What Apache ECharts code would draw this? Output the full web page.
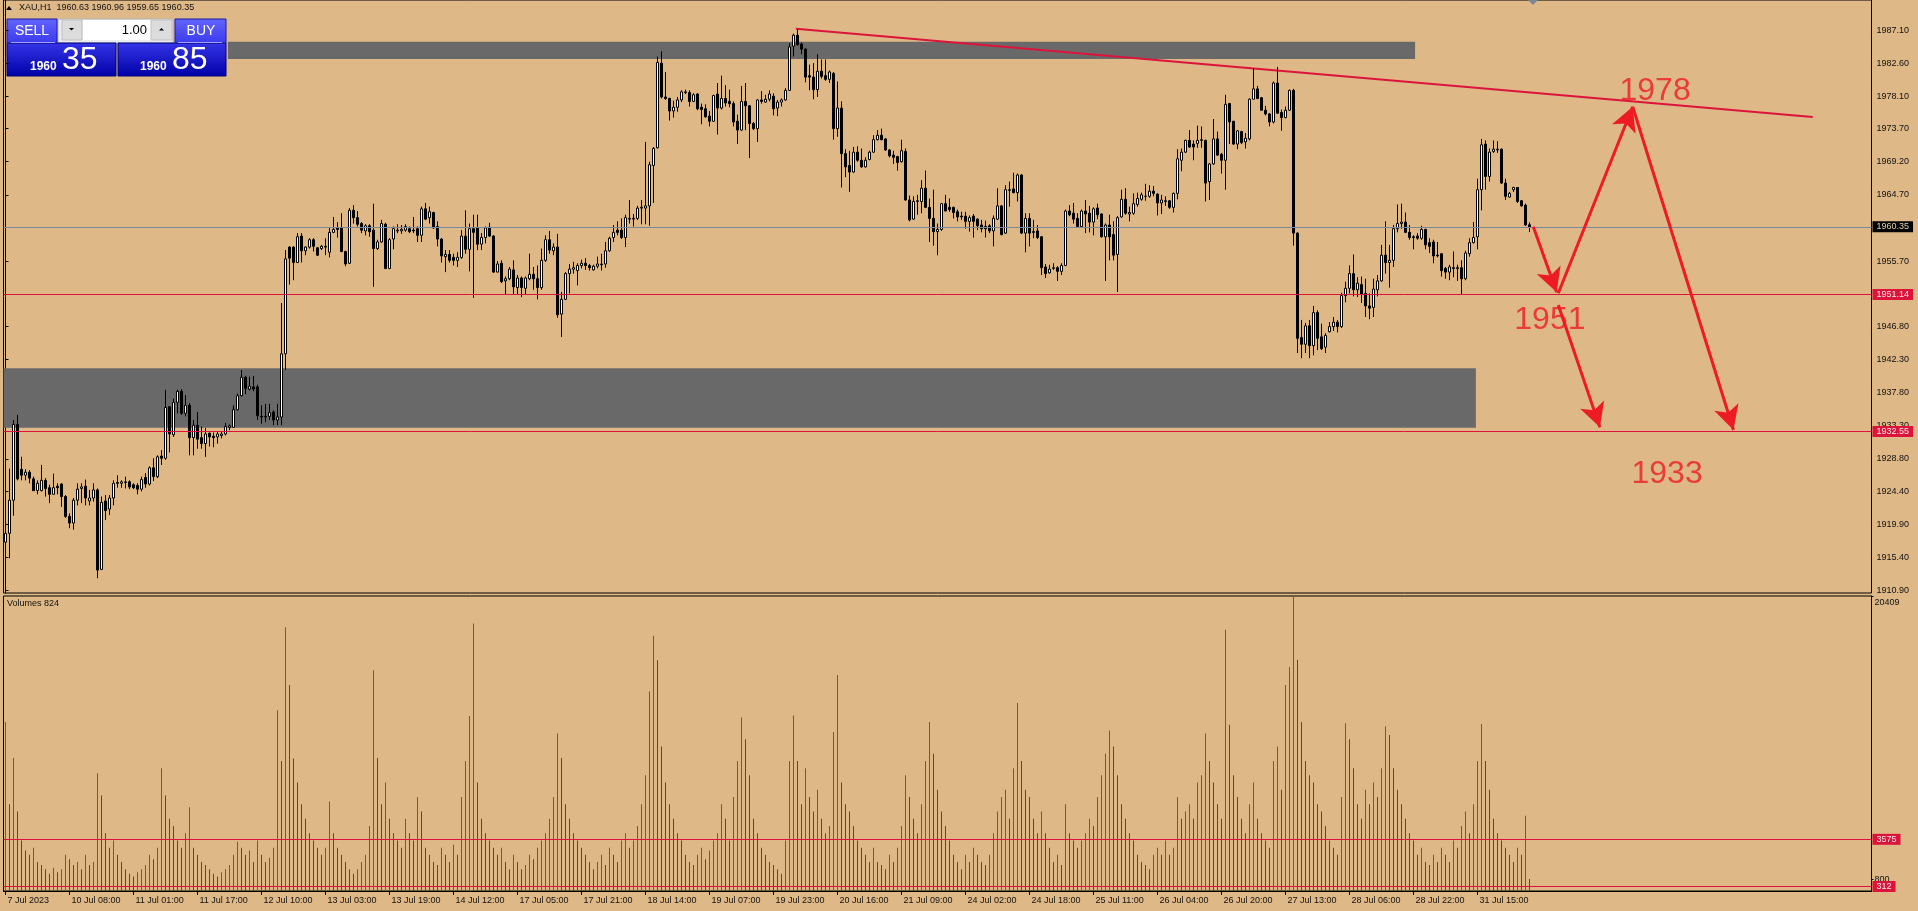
<!DOCTYPE html>
<html><head><meta charset="utf-8">
<script src="https://cdn.jsdelivr.net/npm/echarts@6.0.0/dist/echarts.min.js"></script>
<style>html,body{margin:0;padding:0;background:#DEB887;overflow:hidden}#c{width:1918px;height:911px}</style>
</head><body><div id="c"></div>
<script>
// ---------- time axis (H1 bars, gold session 01:00-23:00) ----------
const sessionDays = [
  ['7 Jul',15,23],['10 Jul',1,23],['11 Jul',1,23],['12 Jul',1,23],['13 Jul',1,23],['14 Jul',1,23],
  ['17 Jul',1,23],['18 Jul',1,23],['19 Jul',1,23],['20 Jul',1,23],['21 Jul',1,23],
  ['24 Jul',1,23],['25 Jul',1,23],['26 Jul',1,23],['27 Jul',1,23],['28 Jul',1,23],
  ['31 Jul',1,23],['1 Aug',1,5]
];
const firstLabel = '7 Jul 2023';
const labelEvery = 16;
const totalSlots = 467;

// ---------- OHLC ----------
const openPx = [
1917.5,1918.7,1923.2,1933.5,1927.4,1926.6,1927.0,1926.1,1924.5,1924.5,1925.9,1924.9,1924.0,1925.1,1925.4,1923.7,1921.0,1920.1,1923.2,1924.8,1925.1,1923.1,1923.5,
1924.6,1913.8,1923.1,1922.0,1923.5,1925.6,1925.5,1925.6,1925.7,1925.3,1925.2,1924.7,1926.3,1925.4,1927.6,1926.4,1929.2,1928.9,1935.9,1932.1,1936.5,1938.0,1935.0,
1936.1,1931.7,1933.4,1931.7,1930.9,1932.3,1931.9,1931.8,1932.0,1932.2,1933.1,1933.1,1935.5,1937.4,1939.9,1938.3,1938.6,1938.6,1934.6,1934.5,1934.6,1935.2,1934.1,
1934.5,1943.1,1957.6,1957.6,1955.5,1959.1,1957.1,1957.6,1958.6,1957.5,1957.4,1957.7,1956.9,1959.6,1960.2,1960.2,1957.0,1955.4,1962.6,1961.6,1960.8,1959.8,1960.5,
1959.9,1957.4,1958.3,1960.7,1954.7,1958.7,1959.8,1959.8,1959.9,1960.1,1959.9,1960.1,1959.2,1962.8,1961.6,1962.3,1960.4,1958.7,1956.3,1956.6,1956.2,1955.8,1956.2,
1959.1,1957.3,1960.1,1960.2,1958.0,1958.9,1960.3,1959.1,1954.2,1955.4,1953.0,1953.3,1954.5,1952.1,1953.4,1952.0,1953.3,1953.9,1953.3,1952.1,1955.8,1958.6,1957.1,
1957.6,1948.5,1950.5,1954.0,1954.6,1954.4,1955.1,1955.4,1955.1,1954.5,1955.0,1955.2,1955.3,1957.1,1958.9,1959.9,1959.9,1958.9,1961.4,1961.4,1961.5,1962.9,1962.9,
1963.2,1968.7,1971.1,1982.6,1978.0,1977.8,1976.1,1976.6,1977.6,1978.6,1978.6,1977.4,1978.4,1976.6,1976.4,1975.4,1974.7,1978.4,1976.5,1977.8,1977.4,1977.1,1974.7,
1973.5,1977.4,1976.8,1974.4,1973.7,1977.6,1977.3,1977.7,1978.1,1976.5,1977.3,1977.6,1978.9,1984.9,1986.4,1985.2,1984.5,1980.9,1980.7,1979.0,1981.5,1980.9,1980.4,
1981.2,1973.7,1976.5,1970.3,1968.7,1967.8,1970.5,1969.4,1968.5,1969.5,1970.5,1972.2,1972.8,1972.3,1970.8,1970.1,1969.9,1969.2,1970.6,1964.0,1961.4,1963.8,1963.8,
1965.6,1963.0,1961.5,1959.7,1960.0,1963.5,1963.0,1963.0,1962.4,1961.8,1961.8,1961.1,1961.8,1961.4,1960.6,1960.4,1960.5,1959.8,1961.4,1963.2,1959.5,1965.3,1965.5,
1965.0,1967.4,1959.5,1961.5,1959.7,1959.8,1959.0,1954.9,1954.1,1954.7,1954.8,1954.3,1955.1,1962.5,1962.2,1961.5,1960.4,1962.5,1962.2,1961.0,1962.9,1962.1,1959.0,
1960.6,1959.3,1956.6,1961.7,1964.1,1962.1,1962.2,1963.4,1964.1,1964.5,1964.5,1965.2,1964.8,1963.6,1963.8,1963.9,1963.0,1964.9,1969.4,1970.5,1972.1,1971.6,1971.7,
1972.1,1972.1,1966.5,1968.9,1972.3,1970.2,1969.4,1977.1,1974.7,1971.6,1973.3,1971.9,1972.3,1977.7,1979.1,1977.9,1976.2,1975.7,1974.6,1979.9,1975.9,1975.2,1976.2,
1978.9,1959.5,1945.3,1944.4,1946.9,1944.2,1948.7,1945.4,1944.0,1946.1,1946.8,1947.4,1946.8,1951.0,1952.0,1954.0,1951.8,1952.5,1951.3,1949.6,1949.4,1951.8,1953.0,
1956.5,1955.5,1955.8,1960.1,1960.8,1961.0,1959.6,1959.0,1959.1,1958.8,1960.0,1958.2,1958.3,1956.5,1956.7,1954.7,1954.2,1954.8,1954.8,1954.8,1953.3,1956.7,1958.2,
1959.0,1965.4,1971.6,1967.2,1970.6,1970.8,1970.9,1966.3,1964.4,1965.4,1965.7,1963.9,1963.3,1960.63
];
const highPx = [
1928.0,1927.5,1934.1,1934.8,1929.1,1927.4,1927.3,1926.4,1925.9,1928.0,1926.2,1925.3,1926.8,1925.5,1925.5,1923.9,1921.4,1923.5,1925.5,1925.5,1926.0,1924.6,1925.5,
1924.8,1923.7,1923.9,1923.9,1925.9,1926.6,1925.9,1926.4,1925.9,1925.5,1925.5,1926.4,1926.9,1927.8,1928.9,1929.3,1930.0,1938.2,1936.0,1937.0,1938.2,1938.3,1937.5,
1936.4,1934.1,1935.2,1933.2,1933.0,1932.4,1932.4,1932.5,1932.5,1933.7,1933.5,1936.1,1937.7,1940.9,1940.1,1940.0,1940.1,1938.9,1936.1,1936.3,1936.3,1935.4,1936.3,
1950.0,1957.2,1957.7,1957.7,1959.5,1959.5,1957.7,1958.8,1958.8,1957.6,1957.9,1958.8,1960.2,1961.7,1961.0,1962.2,1957.1,1962.9,1963.3,1962.5,1961.0,1960.7,1960.7,
1963.5,1958.6,1961.3,1960.9,1958.8,1960.4,1960.7,1960.6,1960.7,1960.4,1961.7,1960.4,1963.1,1963.6,1963.1,1962.4,1961.1,1958.8,1957.2,1957.2,1956.7,1956.9,1959.9,
1962.6,1960.8,1962.0,1962.0,1959.5,1960.4,1960.9,1959.2,1955.7,1955.8,1953.6,1954.9,1955.8,1953.8,1953.6,1953.6,1956.7,1954.9,1955.1,1957.4,1959.2,1959.8,1958.1,
1959.4,1951.5,1954.2,1955.3,1955.6,1955.4,1955.9,1956.1,1955.3,1955.2,1956.3,1956.7,1958.3,1959.0,1960.6,1961.1,1961.5,1962.0,1964.0,1962.1,1963.2,1964.0,1971.9,
1969.2,1971.2,1983.5,1984.2,1981.4,1977.9,1977.5,1978.0,1978.9,1979.0,1978.9,1978.5,1978.5,1977.1,1977.0,1976.1,1978.3,1979.9,1980.9,1979.6,1979.0,1977.4,1975.6,
1979.5,1979.9,1976.9,1974.6,1977.7,1978.8,1978.3,1978.9,1978.5,1977.6,1977.8,1979.2,1985.3,1986.6,1987.2,1985.4,1984.6,1982.4,1982.6,1983.8,1983.1,1983.1,1981.6,
1981.4,1980.1,1977.4,1970.9,1970.7,1971.2,1971.3,1971.0,1969.8,1970.7,1972.8,1973.5,1973.7,1972.4,1970.9,1970.7,1970.0,1972.2,1971.0,1964.6,1964.5,1964.7,1966.7,
1968.0,1964.2,1965.4,1960.8,1963.6,1964.7,1964.2,1963.1,1962.7,1962.4,1962.4,1961.9,1962.1,1961.5,1961.3,1961.2,1960.7,1961.9,1965.6,1963.3,1966.0,1966.5,1967.7,
1967.6,1967.5,1962.2,1962.2,1961.3,1960.6,1959.1,1955.3,1955.2,1955.4,1955.0,1955.4,1962.7,1963.3,1963.6,1962.2,1962.7,1964.0,1963.2,1963.0,1963.5,1962.2,1960.8,
1962.0,1961.1,1961.8,1965.4,1965.6,1963.1,1964.9,1965.0,1965.0,1966.2,1966.0,1965.9,1964.9,1964.7,1964.5,1964.0,1965.0,1970.9,1971.0,1972.2,1973.5,1972.1,1974.1,
1974.0,1972.2,1969.0,1975.0,1973.3,1970.4,1978.3,1977.2,1974.7,1973.5,1973.4,1973.1,1977.8,1981.9,1979.5,1978.0,1976.8,1975.8,1980.1,1982.1,1976.3,1976.7,1979.0,
1979.1,1959.6,1947.7,1947.3,1947.7,1949.6,1949.0,1947.2,1945.9,1947.4,1948.1,1947.7,1951.4,1952.9,1955.1,1956.6,1953.5,1953.6,1953.3,1951.3,1953.3,1953.8,1957.9,
1961.1,1957.9,1960.6,1963.4,1963.5,1962.3,1960.6,1959.2,1959.5,1960.5,1960.1,1958.8,1958.6,1958.3,1956.7,1954.9,1955.2,1957.0,1955.2,1955.8,1957.1,1958.8,1961.0,
1966.9,1972.3,1972.1,1971.0,1972.1,1972.0,1971.0,1966.9,1965.1,1965.8,1965.7,1964.0,1963.5,1960.96
];
const lowPx = [
1914.0,1915.3,1921.1,1925.9,1925.9,1925.9,1925.5,1924.5,1924.0,1924.4,1923.7,1922.8,1924.0,1924.0,1922.3,1920.8,1919.4,1919.2,1922.5,1922.8,1922.5,1922.5,1923.0,
1912.6,1913.7,1920.5,1921.2,1922.5,1924.9,1924.9,1924.8,1924.7,1924.7,1924.0,1924.4,1924.9,1925.2,1925.8,1926.2,1928.0,1928.7,1929.7,1931.8,1935.0,1934.8,1934.6,
1929.3,1929.3,1930.2,1930.2,1929.1,1930.5,1930.4,1930.9,1931.6,1932.0,1932.7,1933.1,1935.4,1937.3,1937.6,1938.1,1938.0,1934.1,1933.6,1933.8,1934.1,1933.4,1933.4,
1933.4,1940.9,1952.5,1953.1,1955.5,1955.5,1956.5,1957.4,1957.0,1956.4,1957.2,1956.5,1956.2,1959.5,1958.9,1956.9,1955.0,1955.3,1960.8,1960.4,1959.5,1959.2,1959.0,
1952.2,1957.2,1958.2,1954.6,1954.6,1957.3,1959.5,1959.4,1959.7,1959.5,1959.5,1958.3,1958.3,1961.3,1960.8,1960.1,1957.7,1955.5,1954.2,1955.5,1955.1,1954.9,1956.0,
1956.7,1954.3,1950.7,1957.2,1957.2,1958.1,1959.0,1954.1,1954.2,1952.7,1951.2,1953.1,1951.2,1951.1,1950.8,1951.1,1953.1,1951.8,1950.5,1951.8,1955.6,1956.7,1956.5,
1948.0,1945.4,1950.4,1951.3,1954.0,1952.4,1954.7,1954.5,1954.4,1954.4,1954.7,1954.4,1954.8,1957.0,1958.3,1959.2,1958.7,1957.6,1960.8,1960.4,1961.3,1960.7,1960.7,
1960.5,1963.6,1971.0,1977.8,1977.6,1974.8,1975.2,1976.0,1977.3,1978.4,1976.7,1977.3,1976.2,1974.3,1975.2,1974.0,1974.6,1972.9,1976.3,1976.7,1976.6,1974.0,1971.6,
1973.4,1973.5,1969.7,1973.5,1971.9,1977.1,1977.2,1977.4,1975.5,1975.4,1976.7,1977.5,1978.9,1983.5,1985.0,1983.8,1980.0,1978.9,1977.7,1978.0,1980.5,1980.2,1979.9,
1972.2,1972.6,1965.7,1967.1,1965.1,1967.7,1969.2,1968.4,1968.4,1969.4,1970.4,1972.1,1972.1,1970.7,1969.8,1968.9,1968.0,1969.1,1963.9,1961.1,1961.3,1962.0,1962.2,
1962.9,1958.3,1957.8,1956.5,1959.8,1962.5,1962.4,1961.5,1961.1,1961.3,1960.1,1959.7,1958.9,1959.9,1959.6,1958.9,1959.5,1957.7,1961.3,1959.2,1959.4,1963.1,1964.9,
1963.8,1959.4,1956.9,1957.7,1958.8,1958.7,1953.8,1953.4,1954.0,1954.5,1953.0,1953.8,1955.0,1961.8,1960.8,1960.3,1960.2,1959.5,1959.6,1959.2,1961.4,1958.9,1953.0,
1955.8,1955.8,1951.5,1961.6,1962.0,1961.1,1962.0,1963.1,1963.9,1963.9,1964.3,1964.5,1961.9,1962.1,1963.2,1962.8,1962.3,1964.1,1967.9,1970.4,1971.1,1969.4,1971.1,
1971.1,1963.8,1964.0,1968.8,1970.0,1967.6,1965.4,1971.6,1971.5,1970.9,1971.6,1971.0,1972.1,1977.7,1977.7,1976.2,1975.5,1974.0,1974.4,1975.7,1973.4,1975.1,1976.1,
1957.8,1943.2,1942.5,1943.2,1942.5,1942.9,1943.6,1943.6,1943.2,1946.0,1946.2,1946.0,1946.6,1950.1,1951.3,1950.9,1950.8,1950.0,1948.1,1947.8,1948.1,1950.9,1952.9,
1954.0,1952.1,1954.9,1959.6,1960.1,1959.5,1958.6,1957.3,1958.6,1958.6,1957.3,1956.8,1955.4,1956.2,1953.6,1953.3,1953.1,1953.5,1953.0,1951.2,1953.1,1956.3,1958.1,
1957.3,1962.6,1965.4,1966.5,1970.4,1970.4,1966.2,1964.0,1964.3,1965.1,1963.6,1963.1,1960.5,1959.65
];
const closePx = [
1918.7,1923.2,1933.5,1926.1,1926.6,1927.0,1926.2,1924.5,1925.5,1925.9,1924.8,1924.0,1924.9,1924.9,1923.7,1921.0,1920.1,1923.2,1924.7,1925.0,1923.5,1923.5,1924.6,
1913.7,1922.9,1921.8,1923.5,1925.5,1925.5,1925.7,1925.7,1925.0,1924.9,1924.7,1926.0,1925.4,1927.6,1926.4,1929.1,1928.9,1935.8,1932.2,1936.5,1938.0,1935.0,1936.1,
1931.7,1933.4,1931.5,1930.9,1932.2,1931.8,1931.7,1932.2,1932.2,1933.2,1933.3,1935.5,1937.4,1939.9,1938.4,1938.7,1938.3,1934.7,1934.5,1934.6,1935.1,1934.1,1934.5,
1943.1,1956.0,1956.1,1955.5,1959.0,1957.1,1957.6,1958.6,1957.7,1956.5,1957.7,1957.6,1959.6,1960.0,1960.0,1957.0,1955.3,1962.6,1961.6,1960.7,1959.9,1960.5,1959.7,
1957.4,1958.3,1960.8,1954.7,1958.6,1960.1,1959.9,1960.0,1960.4,1959.7,1959.8,1959.2,1962.8,1961.4,1962.4,1960.2,1958.7,1956.4,1956.6,1955.8,1955.8,1956.2,1959.1,
1957.3,1960.1,1959.6,1958.0,1958.9,1960.2,1959.1,1954.2,1955.3,1952.9,1953.3,1954.6,1952.2,1953.4,1952.1,1953.4,1953.9,1953.3,1952.1,1955.8,1958.6,1957.2,1957.6,
1948.4,1950.5,1954.0,1954.6,1954.8,1955.1,1955.4,1955.1,1954.8,1955.0,1955.3,1955.3,1957.1,1958.8,1959.6,1959.6,1958.9,1961.6,1961.5,1961.5,1962.9,1963.0,1963.2,
1968.8,1971.0,1982.7,1978.0,1977.8,1976.1,1976.6,1977.6,1978.7,1978.7,1977.4,1978.3,1976.4,1976.3,1975.3,1974.7,1978.2,1976.5,1977.8,1977.2,1977.1,1974.6,1973.5,
1977.4,1976.8,1974.4,1973.7,1977.6,1977.4,1977.7,1978.4,1976.4,1977.3,1977.6,1978.9,1984.8,1986.4,1985.1,1984.5,1980.7,1980.7,1979.0,1981.5,1980.8,1980.4,1981.4,
1973.7,1976.5,1970.3,1968.5,1967.8,1970.5,1969.4,1968.5,1969.4,1970.5,1972.2,1972.8,1972.2,1970.8,1970.0,1969.8,1969.1,1970.7,1964.0,1961.3,1963.8,1963.9,1965.6,
1963.0,1961.5,1959.7,1960.0,1963.5,1962.5,1962.7,1962.3,1961.7,1961.7,1961.1,1961.6,1961.1,1960.5,1960.1,1960.1,1959.8,1961.5,1963.2,1959.3,1965.4,1965.4,1965.0,
1967.4,1959.5,1961.5,1959.5,1959.6,1958.9,1954.8,1954.0,1954.6,1954.8,1954.3,1955.1,1962.5,1962.0,1961.4,1960.4,1962.5,1962.1,1961.0,1962.8,1962.0,1959.0,1960.6,
1959.0,1956.5,1961.6,1964.1,1962.2,1962.3,1963.5,1964.2,1964.7,1964.5,1965.2,1964.9,1963.6,1964.0,1963.9,1963.0,1964.9,1969.6,1970.5,1972.1,1971.2,1971.2,1972.1,
1972.2,1966.3,1968.9,1972.3,1970.1,1969.4,1977.0,1974.6,1971.6,1973.4,1971.8,1972.4,1977.7,1979.1,1977.8,1976.2,1975.7,1974.6,1979.9,1975.8,1975.2,1976.2,1978.9,
1959.5,1945.2,1944.4,1946.9,1944.2,1948.7,1945.2,1943.8,1945.6,1946.8,1947.4,1946.8,1951.0,1952.0,1954.0,1951.8,1952.7,1951.2,1949.6,1949.3,1951.9,1953.0,1956.5,
1955.5,1955.8,1960.1,1960.8,1961.0,1959.6,1958.9,1958.9,1958.8,1960.0,1957.9,1957.7,1956.4,1956.4,1954.4,1954.2,1954.9,1954.7,1954.7,1953.3,1956.8,1958.2,1958.9,
1965.4,1971.5,1967.2,1970.5,1970.9,1970.9,1966.3,1964.5,1964.9,1965.7,1963.8,1963.2,1960.6,1960.35
];
// ---------- tick volumes ----------
const volumes = [
11700,6000,9200,5500,3500,2800,2500,3000,2000,1800,1500,1200,1600,1300,1500,2500,2200,1800,2000,1500,2500,1800,2000,
8150,6600,4000,3000,3500,2500,2000,1500,1200,1000,1300,1500,1800,2500,2200,3000,8500,6600,5000,4500,3500,3000,4000,
5800,3000,2500,2000,1800,1500,1200,1000,1300,1500,1800,2500,3400,3000,2500,2800,2000,3500,2500,2000,2300,3000,12500,
9000,18250,14260,9170,7500,6000,5000,4000,3500,3000,2500,3000,6200,4000,3000,2500,2000,1500,1200,1500,2000,2500,4500,
15280,9200,6000,7500,5000,4000,3500,3000,5000,4000,3500,6500,5500,3000,2500,2000,1800,3000,2500,2000,3200,2500,6500,
9000,12100,18500,7500,5000,4000,3500,3000,2500,3000,2000,1500,2500,2000,1500,1800,2500,2200,3000,3500,4000,5000,6500,
10900,9200,6000,5000,4000,3500,3000,2500,2000,1500,2000,2500,1800,3000,2500,2000,3500,4000,3000,3500,4500,6000,8000,
13800,17660,15960,10000,7500,6000,5000,4000,3500,2500,2000,1800,2500,3000,2200,2800,3500,4000,6000,5000,3500,6500,9000,
12000,10500,8000,5000,4000,3000,2500,2000,1800,1500,1200,3500,9000,12140,9000,6000,8500,6500,5500,7000,5000,4000,4500,
11000,14940,7500,6000,5500,4500,3500,3000,2500,2000,3000,2000,1800,1500,2500,2000,3000,4500,8000,6500,5000,4000,6000,
9000,11700,9500,7000,5500,4500,3500,2500,2000,1500,2500,2000,3000,2500,2000,1800,2500,4000,5500,6500,7000,5000,8500,
13000,9000,7000,6500,5000,4000,5500,4000,3000,2000,2500,1800,6000,4000,3500,3000,3500,4000,5000,4500,6500,8000,9500,
11100,10000,8000,6000,5000,4000,3500,2500,2000,1800,1500,2500,3000,2500,3500,2500,3000,6500,5000,5500,6000,5000,7500,
8000,10900,9000,7500,6000,5000,18080,11500,8000,6500,5000,4000,6000,7500,5000,4000,3500,3000,9000,10000,7000,14260,15500,
20409,16000,11700,9000,8000,7500,6000,5500,4500,3500,3000,2500,6500,11600,10500,8500,6000,5000,7000,6000,7500,6500,8500,
11400,10800,8500,7000,6000,5000,4000,3500,2500,3000,2000,1800,2500,2000,3000,2500,2000,3500,3000,4500,5500,4000,6000,
9000,11550,9000,7000,5000,4000,3500,3000,2500,2000,3000,2500,5200,824
];

// ---------- axis ticks / levels ----------
const priceTicks = [1910.90,1915.40,1919.90,1924.40,1928.80,1933.30,1937.80,1942.30,1946.80,1955.70,1964.70,1969.20,1973.70,1978.10,1982.60,1987.10];
const priceMin = 1910.59, priceMax = 1991.18;
const volumeTicks = [800, 20409];
const volumeMax = 20409;
const bidPrice = 1960.35, askPrice = 1960.85;
const priceLevels = [1951.14, 1932.55];
const volumeLevels = [3575, 312];
const lotSize = '1.00';

// ---------- drawn objects (bar index, price) ----------
const zones = [[55.6, 1985.51, 352.4, 1983.16], [-0.5, 1941.12, 367.6, 1933.05]];
const trendLine = [[197.6, 1987.28], [451.8, 1975.28]];
const arrowPaths = [
  [[381.95, 1960.37], [387.8, 1951.45]],
  [[388.2, 1951.32], [406.8, 1976.68]],
  [[406.8, 1976.68], [432.0, 1932.74]],
  [[388.2, 1949.73], [398.6, 1933.10]]
];
const noteTexts = [['1978', 412.4, 1978.81], ['1951', 386.1, 1947.69], ['1933', 415.4, 1926.76]];

// ---------- build ----------
const barTimes = [];
sessionDays.forEach(([d, h0, h1]) => { for (let h = h0; h <= h1; h++) barTimes.push(d + ' ' + String(h).padStart(2, '0') + ':00'); });
[openPx, highPx, lowPx, closePx, volumes].forEach((a, k) => {
  if (a.length !== barTimes.length) throw new Error('length mismatch ' + k + ': ' + a.length + ' vs ' + barTimes.length);
});
const nBars = barTimes.length;
const cats = barTimes.slice();
for (let i = nBars; i < totalSlots; i++) cats.push('_' + i);

const ohlc = openPx.map((o, i) => [o, closePx[i], lowPx[i], highPx[i]]);
const volData = volumes.map((v, i) => ({ value: v, itemStyle: { color: (i === 0 || v > volumes[i - 1]) ? '#00a000' : '#ff0000' } }));

const FONT = 'Liberation Sans';
const showIdx = (i) => i % labelEvery === 0 && i < nBars;
const tag = (bg, fg, txt) => ({
  show: true, position: 'end', distance: 1, formatter: txt, backgroundColor: bg, color: fg,
  fontFamily: FONT, fontSize: 9, padding: [1, 4, 1, 4], lineHeight: 9
});

const chart = echarts.init(document.getElementById('c'), null, { renderer: 'canvas', width: 1918, height: 911 });

const blueTop = new echarts.graphic.LinearGradient(0, 0, 0, 1, [{ offset: 0, color: '#6464ff' }, { offset: 1, color: '#3a3aee' }]);
const blueBox = () => new echarts.graphic.LinearGradient(0, 0, 0, 1, [{ offset: 0, color: '#3535e8' }, { offset: 1, color: '#0000a6' }]);
const bidStr = bidPrice.toFixed(2).split('.'), askStr = askPrice.toFixed(2).split('.');
const last = nBars - 1;
const headerText = 'XAU,H1  ' + [openPx[last], highPx[last], lowPx[last], closePx[last]].map(v => v.toFixed(2)).join(' ');

const option = {
  animation: false,
  backgroundColor: '#DEB887',
  grid: [
    { left: 3.5, right: 46.5, top: 0, height: 593, show: true, borderColor: '#000', borderWidth: 1, backgroundColor: 'transparent' },
    { left: 3.5, right: 46.5, top: 596, height: 295, show: true, borderColor: '#000', borderWidth: 1, backgroundColor: 'transparent' }
  ],
  xAxis: [
    { type: 'category', gridIndex: 0, data: cats, boundaryGap: true, show: false },
    { type: 'category', gridIndex: 1, data: cats, boundaryGap: true,
      axisLine: { show: true, lineStyle: { color: '#000', width: 1 } },
      axisTick: { show: true, alignWithLabel: true, interval: showIdx, length: 4, lineStyle: { color: '#000' } },
      axisLabel: { show: true, interval: showIdx, align: 'left', margin: 5, padding: [0, 0, 0, 2], color: '#111', fontFamily: FONT, fontSize: 9,
        formatter: (v, i) => i === 0 ? firstLabel : v },
      splitLine: { show: false } },
    { type: 'value', gridIndex: 0, min: -0.5, max: totalSlots - 0.5, show: false }
  ],
  yAxis: [
    { type: 'value', gridIndex: 0, position: 'right', min: priceMin, max: priceMax, scale: true,
      axisLine: { show: true, lineStyle: { color: '#000' } },
      axisTick: { show: true, customValues: priceTicks, length: 3, lineStyle: { color: '#000' } },
      axisLabel: { show: true, customValues: priceTicks, margin: 5, color: '#111', fontFamily: FONT, fontSize: 9, formatter: v => v.toFixed(2) },
      splitLine: { show: false } },
    { type: 'value', gridIndex: 1, position: 'right', min: 0, max: volumeMax,
      axisLine: { show: true, lineStyle: { color: '#000' } },
      axisTick: { show: true, customValues: volumeTicks, length: 2, lineStyle: { color: '#000' } },
      axisLabel: { show: true, customValues: volumeTicks, margin: 3, color: '#111', fontFamily: FONT, fontSize: 9,
        formatter: v => v === volumeMax ? '{t|' + v + '}' : String(v),
        rich: { t: { padding: [14, 0, 0, 0], color: '#111', fontFamily: FONT, fontSize: 9 } } },
      splitLine: { show: false } }
  ],
  series: [
    { type: 'line', name: 'objects', xAxisIndex: 2, yAxisIndex: 0, data: trendLine, symbol: 'none', silent: true,
      lineStyle: { color: '#dc143c', width: 2 }, z: 3,
      markArea: { silent: true, itemStyle: { color: '#696969', opacity: 1 },
        data: zones.map(z => [{ coord: [z[0], z[1]] }, { coord: [z[2], z[3]] }]) } },
    { type: 'candlestick', name: 'XAU', xAxisIndex: 0, yAxisIndex: 0, data: ohlc, barWidth: 2, silent: true, z: 4,
      itemStyle: { color: '#ffffff', color0: '#000000', borderColor: '#000000', borderColor0: '#000000', borderWidth: 1 },
      markLine: { silent: true, symbol: ['none', 'none'], z: 6,
        data: [
          { yAxis: bidPrice, lineStyle: { color: '#778899', width: 1, type: 'solid' }, label: tag('#000000', '#e2cfa6', bidPrice.toFixed(2)) },
          ...priceLevels.map(p => ({ yAxis: p, lineStyle: { color: '#dc143c', width: 1, type: 'solid' }, label: tag('#dc143c', '#ffe6e6', p.toFixed(2)) }))
        ] } },
    { type: 'line', name: 'arrows', xAxisIndex: 2, yAxisIndex: 0, data: [], silent: true, z: 7,
      markLine: { silent: true, symbol: ['none', 'arrow'], symbolSize: [19, 24], z: 7,
        lineStyle: { color: '#ed1c24', width: 3, type: 'solid' }, label: { show: false },
        data: arrowPaths.map(a => [{ coord: a[0] }, { coord: a[1] }]) } },
    { type: 'scatter', name: 'notes', xAxisIndex: 2, yAxisIndex: 0, silent: true, z: 8,
      data: noteTexts.map(t => [t[1], t[2], t[0]]), symbolSize: 1, itemStyle: { color: 'rgba(0,0,0,0)' },
      label: { show: true, position: 'inside', formatter: p => p.value[2], color: '#ed1c24', fontFamily: FONT, fontSize: 32 } },
    { type: 'bar', name: 'Volumes', xAxisIndex: 1, yAxisIndex: 1, data: volData, barWidth: 1, silent: true,
      markLine: { silent: true, symbol: ['none', 'none'],
        data: volumeLevels.map(v => ({ yAxis: v, lineStyle: { color: '#dc143c', width: 1, type: 'solid' }, label: tag('#dc143c', '#ffe6e6', String(v)) })) } }
  ],
  graphic: [
    { type: 'polygon', shape: { points: [[6, 10], [12, 10], [9, 6]] }, style: { fill: '#000' } },
    { type: 'text', x: 19, y: 8, style: { text: headerText, font: '9px ' + FONT, fill: '#111', verticalAlign: 'middle' } },
    { type: 'polygon', shape: { points: [[1528, 0], [1538, 0], [1533, 5]] }, style: { fill: '#7b8794' } },
    { type: 'text', x: 7, y: 604, style: { text: 'Volumes ' + volumes[last], font: '9px ' + FONT, fill: '#111', verticalAlign: 'middle' } },
    // one-click trading panel
    { type: 'rect', shape: { x: 58, y: 19, width: 115, height: 24 }, style: { fill: '#ececec', stroke: '#b4b4b4', lineWidth: 1 } },
    { type: 'rect', shape: { x: 62, y: 20, width: 20, height: 20 }, style: { fill: '#dcdcdc', stroke: '#c0c0c0' } },
    { type: 'rect', shape: { x: 83, y: 20, width: 68, height: 20 }, style: { fill: '#ffffff' } },
    { type: 'rect', shape: { x: 151, y: 20, width: 21, height: 20 }, style: { fill: '#dcdcdc', stroke: '#c0c0c0' } },
    { type: 'polygon', shape: { points: [[69, 28], [74, 28], [71.5, 30.5]] }, style: { fill: '#000' } },
    { type: 'polygon', shape: { points: [[159, 30.5], [164, 30.5], [161.5, 28]] }, style: { fill: '#000' } },
    { type: 'text', x: 147, y: 30, style: { text: lotSize, font: '13px ' + FONT, fill: '#000', align: 'right', verticalAlign: 'middle' } },
    { type: 'rect', shape: { x: 7, y: 43, width: 109, height: 33 }, style: { fill: blueBox(), stroke: '#00007a', lineWidth: 1 } },
    { type: 'rect', shape: { x: 118, y: 43, width: 108, height: 33 }, style: { fill: blueBox(), stroke: '#00007a', lineWidth: 1 } },
    { type: 'rect', shape: { x: 7, y: 19, width: 50, height: 24 }, style: { fill: blueTop, stroke: '#1c1ca0', lineWidth: 1 } },
    { type: 'rect', shape: { x: 175, y: 19, width: 51, height: 24 }, style: { fill: blueTop, stroke: '#1c1ca0', lineWidth: 1 } },
    { type: 'line', shape: { x1: 11, y1: 42.5, x2: 55, y2: 42.5 }, style: { stroke: '#a0a0ff', lineWidth: 1 } },
    { type: 'line', shape: { x1: 178, y1: 42.5, x2: 222, y2: 42.5 }, style: { stroke: '#a0a0ff', lineWidth: 1 } },
    { type: 'text', x: 32, y: 31, style: { text: 'SELL', font: '14px ' + FONT, fill: '#ffffff', align: 'center', verticalAlign: 'middle' } },
    { type: 'text', x: 201, y: 31, style: { text: 'BUY', font: '14px ' + FONT, fill: '#ffffff', align: 'center', verticalAlign: 'middle' } },
    { type: 'text', x: 30, y: 73, style: { text: bidStr[0], font: 'bold 12px ' + FONT, fill: '#ffffff', verticalAlign: 'bottom' } },
    { type: 'text', x: 62, y: 76, style: { text: bidStr[1], font: '32px ' + FONT, fill: '#ffffff', verticalAlign: 'bottom' } },
    { type: 'text', x: 140, y: 73, style: { text: askStr[0], font: 'bold 12px ' + FONT, fill: '#ffffff', verticalAlign: 'bottom' } },
    { type: 'text', x: 172, y: 76, style: { text: askStr[1], font: '32px ' + FONT, fill: '#ffffff', verticalAlign: 'bottom' } }
  ]
};
chart.setOption(option);
</script></body></html>
